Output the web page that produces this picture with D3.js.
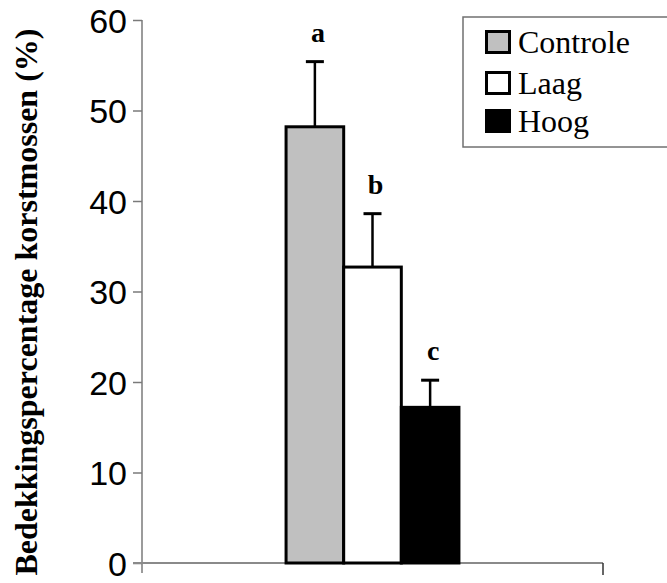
<!DOCTYPE html>
<html>
<head>
<meta charset="utf-8">
<script src="https://cdn.jsdelivr.net/npm/d3@7"></script>
<style>
  html, body { margin: 0; padding: 0; background: #fff; }
  .serif { font-family: "Liberation Serif", "Times New Roman", Times, serif; }
  .sans { font-family: "Liberation Sans", Arial, sans-serif; }
</style>
</head>
<body>
<div id="chart"></div>
<script>
const categories = [""];
const series = ["Controle", "Laag", "Hoog"];
const means = [48.2, 32.7, 17.2];
const errors = [7.2, 5.9, 3.0];
const sigLetters = ["a", "b", "c"];
const yTicks = [0, 10, 20, 30, 40, 50, 60];
const fills = ["#c0c0c0", "#ffffff", "#000000"];

const W = 667, H = 583;
const plotLeft = 142, plotRight = 603, plotTop = 20, plotBottom = 563;

const svg = d3.select("#chart").append("svg")
  .attr("width", W)
  .attr("height", H);

const y = d3.scaleLinear().domain([0, 60]).range([plotBottom, plotTop]);

const x0 = d3.scaleBand()
  .domain(categories)
  .range([plotLeft, plotRight])
  .paddingInner(0.625)
  .paddingOuter(0.3125);

const x1 = d3.scaleBand()
  .domain(series)
  .range([0, x0.bandwidth()]);

// y axis
const yAxis = svg.append("g")
  .attr("transform", `translate(${plotLeft},0)`)
  .call(d3.axisLeft(y).tickValues(yTicks).tickSize(9).tickPadding(6));
yAxis.attr("font-family", null).attr("font-size", null);
yAxis.select(".domain").attr("d", `M0,${plotTop}V${plotBottom + 10}`);
yAxis.selectAll("path, line").attr("stroke", "#7a7a7a").attr("stroke-width", 1.5);
yAxis.selectAll("text")
  .attr("class", "sans")
  .style("font-size", "34px")
  .attr("fill", "#000")
  .attr("dy", "0.36em");

// x axis
svg.append("line")
  .attr("x1", plotLeft - 9).attr("x2", plotRight)
  .attr("y1", plotBottom).attr("y2", plotBottom)
  .attr("stroke", "#8a8a8a").attr("stroke-width", 2);
svg.append("line")
  .attr("x1", plotRight).attr("x2", plotRight)
  .attr("y1", plotBottom).attr("y2", plotBottom + 12)
  .attr("stroke", "#333").attr("stroke-width", 1.5);

// y label
svg.append("text")
  .attr("class", "serif")
  .attr("transform", `translate(37,302) rotate(-90)`)
  .attr("text-anchor", "middle")
  .style("font-weight", "bold")
  .style("font-size", "32px")
  .text("Bedekkingspercentage korstmossen (%)");

const g = svg.append("g").attr("transform", `translate(${x0(categories[0])},0)`);

const rows = series.map((s, i) => ({ s, m: means[i], e: errors[i], l: sigLetters[i], f: fills[i] }));

// error bars
g.selectAll(".err")
  .data(rows)
  .enter().append("line")
  .attr("x1", d => x1(d.s) + x1.bandwidth() / 2)
  .attr("x2", d => x1(d.s) + x1.bandwidth() / 2)
  .attr("y1", d => y(d.m))
  .attr("y2", d => y(d.m + d.e))
  .attr("stroke", "#000").attr("stroke-width", 2.5);

g.selectAll(".cap")
  .data(rows)
  .enter().append("line")
  .attr("x1", d => x1(d.s) + x1.bandwidth() / 2 - 9)
  .attr("x2", d => x1(d.s) + x1.bandwidth() / 2 + 9)
  .attr("y1", d => y(d.m + d.e))
  .attr("y2", d => y(d.m + d.e))
  .attr("stroke", "#000").attr("stroke-width", 3);

// bars
g.selectAll("rect")
  .data(rows)
  .enter().append("rect")
  .attr("x", d => x1(d.s))
  .attr("y", d => y(d.m))
  .attr("width", x1.bandwidth())
  .attr("height", d => y(0) - y(d.m))
  .attr("fill", d => d.f)
  .attr("stroke", "#000")
  .attr("stroke-width", 3);

// significance letters
g.selectAll(".sig")
  .data(rows)
  .enter().append("text")
  .attr("class", "serif")
  .attr("x", d => x1(d.s) + x1.bandwidth() / 2 + 3)
  .attr("y", d => y(d.m + d.e) - 20)
  .attr("text-anchor", "middle")
  .style("font-weight", "bold")
  .style("font-size", "28px")
  .text(d => d.l);

// legend
const legend = svg.append("g").attr("transform", "translate(463,17)");
legend.append("rect")
  .attr("x", 0).attr("y", 0)
  .attr("width", 220).attr("height", 130)
  .attr("fill", "#fff")
  .attr("stroke", "#707070").attr("stroke-width", 1.5);

const item = legend.selectAll(".item")
  .data(rows)
  .enter().append("g")
  .attr("transform", (d, i) => `translate(0,${[36, 77, 115][i]})`);

item.append("rect")
  .attr("x", 23.5).attr("y", -21.5)
  .attr("width", 23).attr("height", 21)
  .attr("fill", d => d.f)
  .attr("stroke", "#000").attr("stroke-width", 3);

item.append("text")
  .attr("class", "serif")
  .attr("x", 55).attr("y", 0)
  .style("font-size", "32px")
  .text(d => d.s);
</script>
</body>
</html>
